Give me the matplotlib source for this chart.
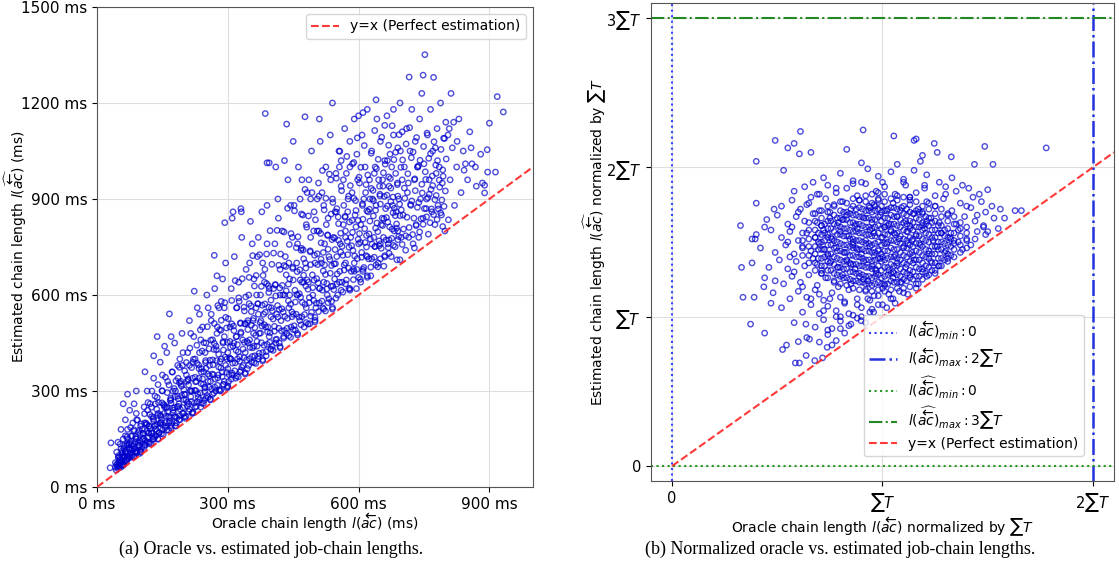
import numpy as np
import matplotlib.pyplot as plt

# (a) oracle vs estimated chain length, ms  (thinned)
oracle_ms = [
    42, 45, 48, 50, 52, 55, 58, 60, 62, 65, 48, 55, 60, 68, 70, 72, 75, 78, 80, 82,
    85, 88, 90, 92, 95, 98, 55, 65, 75, 85, 60, 90, 70, 80, 100, 95, 58, 66, 74, 84,
    30, 32, 65, 91, 50, 53, 57, 62, 70, 76,
    100, 105, 108, 110, 112, 115, 118, 120, 122, 125, 128, 130, 132, 135, 138, 140, 142, 145, 148, 150,
    152, 155, 158, 160, 162, 165, 168, 170, 172, 175, 178, 180, 182, 185, 188, 190, 192, 195, 198, 200,
    110, 130, 150, 170, 190, 140, 160, 120, 180, 155, 138, 166, 104, 116, 126, 134, 146, 174, 186, 196,
    202, 205, 208, 210, 212, 215, 218, 220, 222, 225, 228, 230, 232, 235, 238, 240, 242, 245, 248, 250,
    252, 255, 258, 260, 262, 265, 268, 270, 272, 275, 278, 280, 282, 285, 288, 290, 292, 295, 298, 300,
    215, 235, 255, 275, 295, 225, 245, 265, 285, 300, 223, 269, 206, 238, 262, 284, 212, 248, 276, 292,
    302, 305, 308, 310, 312, 315, 318, 320, 322, 325, 328, 330, 332, 335, 338, 340, 342, 345, 348, 350,
    352, 355, 358, 360, 362, 365, 368, 370, 372, 375, 378, 380, 382, 385, 388, 390, 392, 395, 398, 400,
    310, 330, 350, 370, 390, 320, 340, 360, 380, 395, 293, 312, 331, 346, 366, 384, 306, 326, 356, 376,
    402, 405, 408, 410, 412, 415, 418, 420, 422, 425, 428, 430, 432, 435, 438, 440, 442, 445, 448, 450,
    452, 455, 458, 460, 462, 465, 468, 470, 472, 475, 478, 480, 482, 485, 488, 490, 492, 495, 498, 500,
    410, 430, 450, 470, 490, 420, 440, 460, 480, 500, 386, 477, 435, 390, 395, 416, 444, 466, 486, 474,
    502, 505, 508, 510, 512, 515, 518, 520, 522, 525, 528, 530, 532, 535, 538, 540, 542, 545, 548, 550,
    552, 555, 558, 560, 562, 565, 568, 570, 572, 575, 578, 580, 582, 585, 588, 590, 592, 595, 598, 600,
    510, 540, 560, 580, 600, 520, 550, 570, 590, 505, 516, 536, 556, 576, 596, 526, 546, 566, 586, 541,
    602, 605, 608, 610, 612, 615, 618, 620, 622, 625, 628, 630, 632, 635, 638, 640, 642, 645, 648, 650,
    652, 655, 658, 660, 662, 665, 668, 670, 672, 675, 678, 680, 682, 685, 688, 690, 692, 695, 698, 700,
    610, 640, 660, 680, 700, 620, 650, 670, 690, 605, 616, 636, 656, 676, 696, 626, 646, 666, 686, 638,
    702, 705, 708, 710, 712, 715, 718, 720, 722, 725, 728, 730, 732, 735, 738, 740, 742, 745, 748, 750,
    752, 755, 758, 760, 762, 765, 768, 770, 772, 775, 778, 780, 782, 785, 788, 790, 792, 795, 798, 800,
    695, 728, 748, 793, 806, 716, 736, 756, 776, 766,
    805, 810, 815, 818, 820, 825, 830, 835, 840, 845, 850, 855, 860, 870, 880, 889, 889, 895, 896, 900,
    914, 918, 932, 812, 808, 826, 842, 858, 868, 884,
]
estimated_ms = [
    62, 70, 58, 66, 75, 62, 80, 70, 95, 110, 140, 120, 150, 130, 180, 90, 100, 160, 120, 200,
    95, 140, 230, 110, 170, 105, 180, 210, 240, 260, 260, 300, 290, 100, 190, 130, 100, 85, 120, 175,
    60, 138, 160, 210, 75, 90, 68, 120, 150, 140,
    115, 150, 250, 130, 200, 300, 170, 140, 260, 220, 150, 340, 190, 160, 280, 230, 170, 390, 210, 300,
    165, 250, 190, 420, 330, 200, 270, 185, 360, 240, 450, 300, 200, 380, 260, 210, 330, 480, 230, 290,
    360, 410, 350, 470, 400, 320, 250, 190, 220, 440, 470, 541, 180, 240, 300, 260, 200, 300, 340, 380,
    215, 350, 420, 260, 520, 300, 230, 390, 470, 250, 330, 560, 280, 420, 250, 370, 500, 270, 310, 450,
    600, 280, 380, 330, 520, 290, 430, 620, 300, 480, 350, 560, 300, 400, 650, 320, 470, 530, 310, 420,
    480, 540, 560, 660, 700, 400, 360, 460, 580, 370, 612, 724, 330, 460, 540, 490, 380, 420, 500, 560,
    330, 500, 620, 350, 440, 720, 340, 560, 400, 640, 360, 480, 780, 380, 550, 420, 680, 370, 600, 460,
    830, 390, 520, 650, 410, 560, 720, 400, 480, 600, 860, 420, 540, 680, 410, 760, 500, 620, 430, 560,
    840, 870, 700, 780, 880, 470, 510, 440, 700, 470, 826, 860, 860, 520, 600, 640, 400, 580, 760, 520,
    440, 620, 760, 460, 540, 900, 450, 680, 520, 800, 470, 600, 720, 480, 960, 560, 650, 500, 780, 540,
    880, 490, 700, 600, 1000, 520, 740, 640, 850, 500, 700, 560, 920, 640, 510, 780, 1050, 600, 860, 700,
    1000, 1020, 1080, 960, 900, 600, 700, 760, 820, 530, 1167, 1157, 1134, 1013, 1013, 840, 880, 900, 960, 640,
    560, 800, 950, 620, 1080, 700, 560, 880, 760, 1000, 600, 840, 720, 1100, 580, 900, 780, 650, 980, 870,
    600, 1050, 760, 940, 640, 820, 1120, 700, 980, 860, 620, 1000, 780, 920, 680, 1150, 850, 620, 960, 760,
    1150, 1200, 1020, 1080, 1160, 640, 720, 780, 700, 900, 920, 960, 1000, 900, 1040, 820, 860, 880, 1010, 628,
    950, 820, 1100, 680, 900, 1000, 750, 1180, 860, 960, 660, 1050, 900, 780, 1000, 880, 1150, 700, 940, 1080,
    820, 960, 690, 1020, 870, 1160, 760, 940, 1040, 720, 880, 1100, 800, 980, 710, 1060, 900, 1200, 780, 960,
    1170, 1210, 1130, 1180, 1110, 720, 760, 730, 800, 640, 920, 980, 940, 1000, 1050, 900, 960, 1020, 860, 752,
    850, 1000, 740, 1120, 920, 780, 1050, 880, 1180, 760, 960, 1080, 820, 1000, 780, 1150, 900, 1230, 840, 1010,
    1351, 870, 1100, 790, 960, 1180, 860, 1050, 1280, 820, 980, 1120, 880, 1000, 1200, 850, 950, 1090, 800, 1140,
    710, 747, 1287, 814, 835, 1281, 1000, 900, 1060, 930,
    1100, 960, 1060, 1140, 880, 1000, 1150, 920, 1050, 1010, 960, 1110, 1010, 940, 1040, 919, 943, 1054, 984, 1137,
    984, 1220, 1172, 1230, 1120, 1080, 990, 1060, 1000, 950,
]
# denser core of the band in (a), (oracle, estimated) in ms
band_a = [
    (44, 53), (47, 64), (42, 76), (49, 91), (45, 109), (52, 67), (55, 80), (50, 93), (57, 112), (53, 134),
    (60, 68), (63, 79), (58, 93), (65, 109), (61, 130), (68, 81), (71, 96), (66, 112), (73, 132), (69, 157),
    (76, 95), (79, 116), (74, 136), (81, 159), (77, 186), (84, 95), (87, 111), (82, 129), (89, 151), (85, 179),
    (92, 111), (95, 131), (90, 150), (97, 177), (93, 209), (100, 109), (103, 125), (98, 145), (105, 168), (101, 197),
    (108, 124), (111, 145), (106, 167), (113, 195), (109, 229), (116, 140), (119, 168), (114, 196), (121, 227), (117, 264),
    (124, 136), (127, 158), (122, 182), (129, 212), (125, 249), (132, 155), (135, 181), (130, 206), (137, 243), (133, 284),
    (140, 149), (143, 170), (138, 196), (145, 226), (141, 264), (148, 167), (151, 194), (146, 221), (153, 258), (149, 301),
    (156, 185), (159, 221), (154, 255), (161, 295), (157, 343), (164, 178), (167, 206), (162, 235), (169, 273), (165, 319),
    (172, 199), (175, 232), (170, 262), (177, 308), (173, 359), (180, 190), (183, 216), (178, 248), (185, 284), (181, 332),
    (188, 210), (191, 243), (186, 276), (193, 321), (189, 374), (196, 230), (199, 273), (194, 315), (201, 363), (197, 420),
    (204, 220), (207, 253), (202, 289), (209, 334), (205, 389), (212, 243), (215, 282), (210, 319), (217, 373), (213, 434),
    (220, 231), (223, 262), (218, 300), (225, 343), (221, 399), (228, 252), (231, 291), (226, 329), (233, 381), (229, 443),
    (236, 273), (239, 323), (234, 370), (241, 425), (237, 491), (244, 261), (247, 298), (242, 338), (249, 389), (245, 451),
    (252, 286), (255, 330), (250, 371), (257, 432), (253, 501), (260, 272), (263, 306), (258, 348), (265, 397), (261, 459),
    (268, 294), (271, 338), (266, 382), (273, 440), (269, 511), (276, 318), (279, 375), (274, 429), (281, 492), (277, 567),
    (284, 302), (287, 345), (282, 392), (289, 450), (285, 521), (292, 330), (295, 380), (290, 428), (297, 497), (293, 576),
    (300, 312), (303, 351), (298, 400), (305, 455), (301, 526), (308, 337), (311, 387), (306, 437), (313, 503), (309, 583),
    (316, 363), (319, 427), (314, 489), (321, 560), (317, 645), (324, 344), (327, 393), (322, 445), (329, 511), (325, 591),
    (332, 374), (335, 431), (330, 484), (337, 562), (333, 651), (340, 353), (343, 397), (338, 452), (345, 513), (341, 594),
    (348, 380), (351, 436), (346, 492), (353, 566), (349, 655), (356, 408), (359, 480), (354, 548), (361, 628), (357, 723),
    (364, 386), (367, 440), (362, 498), (369, 572), (365, 661), (372, 418), (375, 481), (370, 540), (377, 627), (373, 726),
    (380, 394), (383, 443), (378, 503), (385, 572), (381, 661), (388, 423), (391, 485), (386, 546), (393, 629), (389, 728),
    (396, 452), (399, 532), (394, 608), (401, 696), (397, 801), (404, 427), (407, 487), (402, 551), (409, 633), (405, 731),
    (412, 462), (415, 531), (410, 597), (417, 693), (413, 802), (420, 435), (423, 488), (418, 555), (425, 630), (421, 728),
    (428, 465), (431, 533), (426, 600), (433, 689), (429, 797), (436, 496), (439, 582), (434, 663), (441, 758), (437, 871),
    (444, 468), (447, 532), (442, 600), (449, 687), (445, 792), (452, 504), (455, 578), (450, 647), (457, 748), (453, 863),
    (460, 475), (463, 531), (458, 601), (465, 679), (461, 782), (468, 507), (471, 577), (466, 647), (473, 741), (469, 853),
    (476, 539), (479, 628), (474, 713), (481, 812), (477, 930), (484, 509), (487, 576), (482, 647), (489, 738), (485, 847),
    (492, 546), (495, 623), (490, 695), (497, 800), (493, 920), (500, 516), (503, 574), (498, 646), (505, 729), (501, 835),
    (508, 548), (511, 621), (506, 695), (513, 792), (509, 909), (516, 581), (519, 675), (514, 763), (521, 866), (517, 989),
    (524, 550), (527, 619), (522, 694), (529, 788), (525, 902), (532, 588), (535, 668), (530, 743), (537, 853), (533, 978),
    (540, 556), (543, 617), (538, 692), (545, 778), (541, 889), (548, 590), (551, 666), (546, 742), (553, 844), (549, 965),
    (556, 640), (559, 734), (554, 823), (561, 926), (557, 1049), (564, 609), (567, 678), (562, 752), (569, 846), (565, 960),
    (572, 647), (575, 726), (570, 800), (577, 909), (573, 1033), (580, 615), (583, 674), (578, 749), (585, 833), (581, 942),
    (588, 648), (591, 722), (586, 796), (593, 895), (589, 1014), (596, 680), (599, 774), (594, 864), (601, 968), (597, 1091),
    (604, 649), (607, 718), (602, 792), (609, 885), (605, 999), (612, 686), (615, 764), (610, 837), (617, 945), (613, 1067),
    (620, 655), (623, 713), (618, 786), (625, 868), (621, 975), (628, 687), (631, 759), (626, 831), (633, 927), (629, 1043),
    (636, 718), (639, 809), (634, 895), (641, 995), (637, 1114), (644, 688), (647, 754), (642, 825), (649, 915), (645, 1024),
    (652, 746), (655, 817), (650, 884), (657, 982), (653, 1093), (660, 719), (663, 772), (658, 838), (665, 912), (661, 1009),
    (668, 748), (671, 813), (666, 878), (673, 964), (669, 1068), (676, 777), (679, 857), (674, 934), (681, 1023), (677, 1129),
    (684, 751), (687, 809), (682, 871), (689, 950), (685, 1046), (692, 783), (695, 848), (690, 909), (697, 999), (693, 1101),
    (700, 758), (703, 806), (698, 866), (705, 934), (701, 1022), (708, 785), (711, 843), (706, 902), (713, 979), (709, 1072),
    (716, 811), (719, 883), (714, 950), (721, 1029), (717, 1123), (724, 789), (727, 840), (722, 894), (729, 963), (725, 1047),
    (732, 817), (735, 874), (730, 926), (737, 1004), (733, 1092), (740, 797), (743, 838), (738, 889), (745, 946), (741, 1021),
    (748, 821), (751, 870), (746, 919), (753, 985), (749, 1064), (756, 844), (759, 904), (754, 961), (761, 1027), (757, 1106),
    (764, 826), (767, 869), (762, 915), (769, 972), (765, 1042), (772, 851), (775, 898), (770, 942), (777, 1006), (773, 1079),
    (780, 836), (783, 869), (778, 911), (785, 959), (781, 1020), (788, 857), (791, 897), (786, 937), (793, 991), (789, 1055),
    (796, 877), (799, 925), (794, 971), (801, 1025), (797, 1089),
]
# the thickest part of the band in (a), (oracle, estimated) in ms
middle_a = [
    (50, 63), (47, 73), (54, 85), (49, 98), (60, 69), (57, 81), (64, 94), (59, 108),
    (70, 88), (67, 102), (74, 118), (69, 136), (80, 93), (77, 107), (84, 118), (79, 134),
    (90, 106), (87, 121), (94, 139), (89, 158), (100, 110), (97, 127), (104, 146), (99, 166),
    (110, 133), (107, 152), (114, 174), (109, 200), (120, 135), (117, 154), (124, 169), (119, 191),
    (130, 149), (127, 169), (134, 193), (129, 218), (140, 151), (137, 174), (144, 198), (139, 224),
    (150, 178), (147, 202), (154, 230), (149, 263), (160, 178), (157, 201), (164, 220), (159, 247),
    (170, 192), (167, 217), (174, 247), (169, 278), (180, 192), (177, 220), (184, 250), (179, 282),
    (190, 223), (187, 252), (194, 286), (189, 326), (200, 220), (197, 248), (204, 272), (199, 304),
    (210, 236), (207, 265), (214, 301), (209, 338), (220, 234), (217, 267), (224, 302), (219, 340),
    (230, 267), (227, 301), (234, 340), (229, 387), (240, 262), (237, 294), (244, 321), (239, 359),
    (250, 278), (247, 312), (254, 353), (249, 395), (260, 275), (257, 312), (264, 353), (259, 396),
    (270, 312), (267, 351), (274, 395), (269, 449), (280, 304), (277, 341), (284, 372), (279, 415),
    (290, 321), (287, 359), (294, 406), (289, 454), (300, 316), (297, 358), (304, 403), (299, 452),
    (310, 356), (307, 400), (314, 450), (309, 510), (320, 347), (317, 388), (324, 422), (319, 470),
    (330, 364), (327, 407), (334, 460), (329, 513), (340, 357), (337, 404), (344, 455), (339, 510),
    (350, 401), (347, 450), (354, 506), (349, 573), (360, 389), (357, 435), (364, 474), (359, 527),
    (370, 408), (367, 455), (374, 514), (369, 573), (380, 398), (377, 451), (384, 507), (379, 568),
    (390, 446), (387, 500), (394, 562), (389, 636), (400, 431), (397, 482), (404, 525), (399, 584),
    (410, 450), (407, 502), (414, 567), (409, 631), (420, 439), (417, 496), (424, 557), (419, 622),
    (430, 489), (427, 547), (434, 613), (429, 692), (440, 473), (437, 527), (444, 571), (439, 634),
    (450, 492), (447, 547), (454, 615), (449, 683), (460, 480), (457, 540), (464, 604), (459, 673),
    (470, 532), (467, 593), (474, 662), (469, 746), (480, 514), (477, 571), (484, 618), (479, 684),
    (490, 534), (487, 592), (494, 663), (489, 735), (500, 521), (497, 583), (504, 651), (499, 724),
    (510, 575), (507, 638), (514, 712), (509, 800), (520, 556), (517, 615), (524, 664), (519, 733),
    (530, 576), (527, 636), (534, 711), (529, 786), (540, 561), (537, 627), (544, 697), (539, 773),
    (550, 634), (547, 698), (554, 771), (549, 859), (560, 615), (557, 674), (564, 724), (559, 793),
    (570, 635), (567, 694), (574, 768), (569, 843), (580, 620), (577, 684), (584, 754), (579, 828),
    (590, 674), (587, 739), (594, 813), (589, 902), (600, 655), (597, 714), (604, 764), (599, 833),
    (610, 674), (607, 733), (614, 807), (609, 880), (620, 660), (617, 723), (624, 791), (619, 863),
    (630, 713), (627, 775), (634, 847), (629, 933), (640, 694), (637, 751), (644, 798), (639, 865),
    (650, 713), (647, 769), (654, 840), (649, 910), (660, 723), (657, 780), (664, 842), (659, 908),
    (670, 772), (667, 828), (674, 892), (669, 969), (680, 755), (677, 806), (684, 848), (679, 906),
    (690, 773), (687, 822), (694, 884), (689, 945),
]

# (b) normalized by sum(T)
oracle_norm = [
    0.72, 0.80, 0.86, 0.93, 0.98, 1.04, 1.10, 1.15, 1.21, 1.27, 1.33, 0.67, 1.38, 0.90, 1.07, 1.18,
    0.58, 0.63, 0.69, 0.74, 0.78, 0.83, 0.88, 0.92, 0.97, 1.01, 1.06, 1.11, 1.16, 1.20, 1.25, 1.30,
    1.35, 1.41, 1.46, 1.50, 0.66, 0.86, 1.13, 1.43,
    0.52, 0.57, 0.61, 0.65, 0.70, 0.73, 0.77, 0.81, 0.85, 0.89, 0.94, 0.98, 1.02, 1.05, 1.09, 1.13,
    1.17, 1.21, 1.25, 1.29, 1.33, 1.37, 1.42, 1.47, 1.52, 0.96, 0.75, 1.19, 1.56, 1.49,
    0.45, 0.50, 0.55, 0.59, 0.63, 0.67, 0.71, 0.75, 0.79, 0.83, 0.87, 0.91, 0.95, 0.99, 1.03, 1.07,
    1.11, 1.15, 1.19, 1.23, 1.27, 1.31, 1.35, 1.39, 1.44, 1.48, 1.53, 0.81, 1.01, 1.21, 0.69, 1.13,
    0.40, 0.47, 0.52, 0.56, 0.60, 0.64, 0.68, 0.72, 0.76, 0.80, 0.84, 0.88, 0.92, 0.96, 1.00, 1.04,
    1.08, 1.12, 1.16, 1.20, 1.24, 1.28, 1.32, 1.36, 1.40, 1.45, 1.49, 0.86, 1.06, 0.94, 1.14, 0.74,
    0.42, 0.49, 0.54, 0.58, 0.62, 0.66, 0.70, 0.74, 0.78, 0.82, 0.86, 0.90, 0.94, 0.98, 1.02, 1.06,
    1.10, 1.14, 1.18, 1.22, 1.26, 1.30, 1.34, 1.38, 1.42, 0.88, 1.00, 1.12, 0.72, 0.96,
    0.38, 0.46, 0.51, 0.55, 0.59, 0.63, 0.67, 0.71, 0.75, 0.79, 0.83, 0.87, 0.91, 0.95, 0.99, 1.03,
    1.07, 1.11, 1.15, 1.19, 1.23, 1.27, 1.31, 0.85, 1.05, 0.69, 0.97,
    0.44, 0.53, 0.57, 0.61, 0.65, 0.69, 0.73, 0.77, 0.81, 0.85, 0.89, 0.93, 0.97, 1.01, 1.05, 1.09,
    1.13, 1.17, 1.21, 1.25, 0.79, 0.91, 0.71,
    0.48, 0.56, 0.60, 0.64, 0.68, 0.72, 0.76, 0.80, 0.84, 0.88, 0.92, 0.96, 1.00, 1.04, 1.08, 1.12,
    1.16, 0.82, 0.94,
    0.52, 0.62, 0.66, 0.70, 0.74, 0.78, 0.82, 0.86, 0.90, 0.94, 0.98, 1.02, 1.06, 0.80,
    0.58, 0.68, 0.72, 0.76, 0.80, 0.84, 0.88, 0.92, 0.74,
    0.64, 0.70, 0.74, 0.78, 0.82, 0.76,
    0.586, 0.605, 0.637, 0.525, 0.544, 0.44, 0.373, 0.337, 0.39, 0.47, 0.49, 0.436, 0.715, 0.678,
    0.737, 0.898, 0.958, 0.653, 0.60, 0.636,
    1.778, 0.908, 0.61, 0.49, 0.40, 1.054, 1.16, 1.15, 1.486, 1.437, 1.525, 0.325, 0.33, 1.66, 1.63,
    1.58, 1.55, 0.38, 0.395, 0.44, 0.485, 0.40, 0.53, 0.55, 0.58, 0.66, 0.605, 0.83, 1.246, 1.26,
    1.327, 1.19,
]
estimated_norm = [
    1.93, 1.96, 1.91, 1.99, 1.94, 1.97, 1.92, 1.98, 1.95, 1.90, 1.93, 1.90, 1.88, 2.03, 2.02, 2.04,
    1.84, 1.87, 1.82, 1.88, 1.83, 1.86, 1.81, 1.89, 1.84, 1.87, 1.82, 1.88, 1.83, 1.86, 1.81, 1.87,
    1.84, 1.86, 1.82, 1.85, 1.80, 1.89, 1.80, 1.80,
    1.74, 1.78, 1.72, 1.76, 1.71, 1.79, 1.74, 1.77, 1.72, 1.78, 1.73, 1.79, 1.71, 1.76, 1.73, 1.78,
    1.72, 1.77, 1.74, 1.79, 1.71, 1.76, 1.73, 1.77, 1.74, 1.75, 1.70, 1.70, 1.72, 1.70,
    1.65, 1.68, 1.62, 1.67, 1.64, 1.69, 1.61, 1.66, 1.63, 1.68, 1.61, 1.66, 1.63, 1.68, 1.62, 1.67,
    1.64, 1.69, 1.61, 1.66, 1.63, 1.68, 1.62, 1.67, 1.64, 1.61, 1.66, 1.65, 1.60, 1.64, 1.63, 1.61,
    1.55, 1.58, 1.53, 1.57, 1.51, 1.56, 1.53, 1.58, 1.52, 1.57, 1.54, 1.59, 1.51, 1.56, 1.53, 1.58,
    1.52, 1.57, 1.54, 1.59, 1.51, 1.56, 1.53, 1.58, 1.52, 1.57, 1.55, 1.50, 1.55, 1.58, 1.51, 1.55,
    1.46, 1.43, 1.48, 1.42, 1.47, 1.44, 1.49, 1.41, 1.46, 1.43, 1.48, 1.42, 1.47, 1.44, 1.49, 1.41,
    1.46, 1.43, 1.48, 1.42, 1.47, 1.44, 1.49, 1.45, 1.48, 1.45, 1.40, 1.49, 1.45, 1.41,
    1.36, 1.33, 1.38, 1.32, 1.37, 1.34, 1.39, 1.31, 1.36, 1.33, 1.38, 1.32, 1.37, 1.34, 1.39, 1.31,
    1.36, 1.33, 1.38, 1.32, 1.37, 1.34, 1.39, 1.35, 1.30, 1.35, 1.31,
    1.26, 1.22, 1.27, 1.23, 1.28, 1.21, 1.26, 1.23, 1.28, 1.22, 1.27, 1.24, 1.29, 1.21, 1.26, 1.23,
    1.28, 1.22, 1.27, 1.29, 1.20, 1.25, 1.29,
    1.16, 1.12, 1.17, 1.13, 1.18, 1.11, 1.16, 1.13, 1.18, 1.12, 1.17, 1.14, 1.19, 1.12, 1.17, 1.15,
    1.19, 1.10, 1.11,
    1.06, 1.03, 1.08, 1.02, 1.07, 1.04, 1.09, 1.01, 1.06, 1.03, 1.08, 1.06, 1.09, 1.00,
    0.96, 0.93, 0.98, 0.92, 0.97, 0.94, 0.99, 0.96, 0.91,
    0.86, 0.83, 0.88, 0.84, 0.89, 0.81,
    0.69, 0.69, 0.74, 0.78, 0.81, 0.89, 0.95, 1.13, 1.13, 1.09, 1.24, 1.20, 0.724, 0.706,
    0.795, 0.973, 1.03, 0.85, 0.833, 0.95,
    2.13, 2.25, 2.24, 2.18, 2.04, 2.21, 2.19, 2.18, 2.14, 2.02, 2.02, 1.61, 1.33, 1.71, 1.71,
    1.66, 1.59, 1.52, 1.52, 1.60, 1.72, 1.76, 1.98, 2.13, 2.16, 2.10, 2.09, 2.12, 2.16, 2.10,
    2.07, 2.08,
]
# dense core of the cloud in (b), (oracle, estimated)
core_b = [
    (0.62, 1.41), (0.62, 1.46), (0.62, 1.51), (0.62, 1.56),
    (0.65, 1.36), (0.65, 1.41), (0.65, 1.47), (0.65, 1.52), (0.65, 1.58), (0.65, 1.63),
    (0.68, 1.31), (0.68, 1.36), (0.68, 1.42), (0.68, 1.47), (0.68, 1.53), (0.68, 1.58), (0.68, 1.64), (0.68, 1.69),
    (0.71, 1.29), (0.71, 1.34), (0.71, 1.39), (0.71, 1.45), (0.71, 1.50), (0.71, 1.55), (0.71, 1.61), (0.71, 1.66),
    (0.71, 1.71), (0.74, 1.26), (0.74, 1.31), (0.74, 1.37), (0.74, 1.42), (0.74, 1.48), (0.74, 1.53), (0.74, 1.59),
    (0.74, 1.64), (0.74, 1.70), (0.74, 1.74), (0.77, 1.24), (0.77, 1.29), (0.77, 1.35), (0.77, 1.40), (0.77, 1.46),
    (0.77, 1.51), (0.77, 1.57), (0.77, 1.62), (0.77, 1.68), (0.77, 1.75), (0.80, 1.22), (0.80, 1.27), (0.80, 1.33),
    (0.80, 1.38), (0.80, 1.44), (0.80, 1.49), (0.80, 1.55), (0.80, 1.60), (0.80, 1.66), (0.80, 1.71), (0.80, 1.77),
    (0.83, 1.21), (0.83, 1.26), (0.83, 1.32), (0.83, 1.37), (0.83, 1.43), (0.83, 1.48), (0.83, 1.54), (0.83, 1.59),
    (0.83, 1.65), (0.83, 1.70), (0.83, 1.76), (0.86, 1.19), (0.86, 1.24), (0.86, 1.30), (0.86, 1.35), (0.86, 1.41),
    (0.86, 1.46), (0.86, 1.52), (0.86, 1.57), (0.86, 1.63), (0.86, 1.68), (0.86, 1.74), (0.86, 1.79),
    (0.89, 1.18), (0.89, 1.23), (0.89, 1.29), (0.89, 1.34), (0.89, 1.40), (0.89, 1.45), (0.89, 1.51), (0.89, 1.56),
    (0.89, 1.62), (0.89, 1.67), (0.89, 1.73), (0.89, 1.78), (0.92, 1.18), (0.92, 1.22), (0.92, 1.27), (0.92, 1.33),
    (0.92, 1.38), (0.92, 1.44), (0.92, 1.49), (0.92, 1.55), (0.92, 1.60), (0.92, 1.66), (0.92, 1.71), (0.92, 1.77),
    (0.92, 1.81), (0.95, 1.17), (0.95, 1.21), (0.95, 1.26), (0.95, 1.32), (0.95, 1.37), (0.95, 1.43), (0.95, 1.48),
    (0.95, 1.54), (0.95, 1.59), (0.95, 1.65), (0.95, 1.70), (0.95, 1.76), (0.95, 1.82), (0.98, 1.18), (0.98, 1.23),
    (0.98, 1.28), (0.98, 1.34), (0.98, 1.39), (0.98, 1.45), (0.98, 1.50), (0.98, 1.56), (0.98, 1.61), (0.98, 1.67),
    (0.98, 1.72), (0.98, 1.78), (0.98, 1.83), (1.01, 1.17), (1.01, 1.22), (1.01, 1.27), (1.01, 1.33), (1.01, 1.38),
    (1.01, 1.44), (1.01, 1.49), (1.01, 1.55), (1.01, 1.60), (1.01, 1.66), (1.01, 1.71), (1.01, 1.77), (1.01, 1.82),
    (1.04, 1.18), (1.04, 1.24), (1.04, 1.29), (1.04, 1.35), (1.04, 1.40), (1.04, 1.46), (1.04, 1.51), (1.04, 1.57),
    (1.04, 1.62), (1.04, 1.68), (1.04, 1.73), (1.04, 1.79), (1.07, 1.19), (1.07, 1.23), (1.07, 1.28), (1.07, 1.34),
    (1.07, 1.39), (1.07, 1.45), (1.07, 1.50), (1.07, 1.56), (1.07, 1.61), (1.07, 1.67), (1.07, 1.72), (1.07, 1.78),
    (1.07, 1.81), (1.10, 1.19), (1.10, 1.25), (1.10, 1.30), (1.10, 1.36), (1.10, 1.41), (1.10, 1.47), (1.10, 1.52),
    (1.10, 1.58), (1.10, 1.63), (1.10, 1.69), (1.10, 1.74), (1.10, 1.80), (1.13, 1.20), (1.13, 1.26), (1.13, 1.31),
    (1.13, 1.37), (1.13, 1.42), (1.13, 1.48), (1.13, 1.53), (1.13, 1.59), (1.13, 1.64), (1.13, 1.70), (1.13, 1.75),
    (1.13, 1.80), (1.16, 1.22), (1.16, 1.27), (1.16, 1.33), (1.16, 1.38), (1.16, 1.44), (1.16, 1.49), (1.16, 1.55),
    (1.16, 1.60), (1.16, 1.66), (1.16, 1.71), (1.16, 1.77), (1.19, 1.25), (1.19, 1.30), (1.19, 1.36), (1.19, 1.41),
    (1.19, 1.47), (1.19, 1.52), (1.19, 1.58), (1.19, 1.63), (1.19, 1.69), (1.19, 1.74), (1.22, 1.28), (1.22, 1.33),
    (1.22, 1.39), (1.22, 1.44), (1.22, 1.50), (1.22, 1.55), (1.22, 1.61), (1.22, 1.66), (1.22, 1.72), (1.22, 1.76),
    (1.25, 1.31), (1.25, 1.36), (1.25, 1.42), (1.25, 1.47), (1.25, 1.53), (1.25, 1.58), (1.25, 1.64), (1.25, 1.69),
    (1.25, 1.74), (1.28, 1.34), (1.28, 1.39), (1.28, 1.45), (1.28, 1.50), (1.28, 1.56), (1.28, 1.61), (1.28, 1.67),
    (1.28, 1.72), (1.31, 1.37), (1.31, 1.42), (1.31, 1.48), (1.31, 1.53), (1.31, 1.59), (1.31, 1.64), (1.31, 1.69),
    (1.34, 1.40), (1.34, 1.45), (1.34, 1.51), (1.34, 1.56), (1.34, 1.62), (1.34, 1.67), (1.37, 1.43), (1.37, 1.48),
    (1.37, 1.54), (1.37, 1.59), (1.37, 1.63), (1.40, 1.46), (1.40, 1.51), (1.40, 1.56), (1.40, 1.60),
    (0.85, 0.95), (0.90, 1.00), (0.95, 1.05), (1.00, 1.08), (1.05, 1.12), (1.10, 1.16), (0.88, 1.08), (0.93, 1.12),
    (0.98, 1.14), (1.03, 1.15), (0.80, 0.92), (0.84, 1.02), (0.78, 1.00), (0.72, 1.04), (0.66, 1.12), (0.70, 1.15),
    (0.75, 1.12), (0.62, 1.20), (0.58, 1.30), (0.56, 1.40), (0.55, 1.50), (0.57, 1.60), (0.60, 1.70), (0.64, 1.75),
    (0.70, 1.82), (0.78, 1.86), (0.90, 1.90), (1.00, 1.90), (1.10, 1.90), (1.20, 1.88), (1.30, 1.82), (1.40, 1.74),
    (1.45, 1.68), (1.48, 1.60), (1.50, 1.57), (1.44, 1.52), (1.36, 1.50),
]
# the darkest middle of the cloud in (b)
centre_b = [
    (0.695, 1.39), (0.695, 1.45), (0.695, 1.50), (0.695, 1.56),
    (0.725, 1.34), (0.725, 1.40), (0.725, 1.45), (0.725, 1.51), (0.725, 1.56), (0.725, 1.62),
    (0.755, 1.31), (0.755, 1.37), (0.755, 1.42), (0.755, 1.48), (0.755, 1.53), (0.755, 1.59), (0.755, 1.64),
    (0.785, 1.28), (0.785, 1.33), (0.785, 1.39), (0.785, 1.44), (0.785, 1.50), (0.785, 1.55), (0.785, 1.61), (0.785, 1.66),
    (0.815, 1.26), (0.815, 1.32), (0.815, 1.37), (0.815, 1.43), (0.815, 1.48), (0.815, 1.54), (0.815, 1.59), (0.815, 1.65),
    (0.815, 1.70), (0.845, 1.25), (0.845, 1.30), (0.845, 1.36), (0.845, 1.41), (0.845, 1.47), (0.845, 1.52), (0.845, 1.58),
    (0.845, 1.63), (0.845, 1.69), (0.875, 1.24), (0.875, 1.29), (0.875, 1.35), (0.875, 1.40), (0.875, 1.46), (0.875, 1.51),
    (0.875, 1.57), (0.875, 1.62), (0.875, 1.68), (0.875, 1.72), (0.905, 1.23), (0.905, 1.28), (0.905, 1.34), (0.905, 1.39),
    (0.905, 1.45), (0.905, 1.50), (0.905, 1.56), (0.905, 1.61), (0.905, 1.67), (0.905, 1.72), (0.935, 1.22), (0.935, 1.27),
    (0.935, 1.33), (0.935, 1.38), (0.935, 1.44), (0.935, 1.49), (0.935, 1.55), (0.935, 1.60), (0.935, 1.66), (0.935, 1.71),
    (0.935, 1.74), (0.965, 1.22), (0.965, 1.27), (0.965, 1.32), (0.965, 1.38), (0.965, 1.43), (0.965, 1.49), (0.965, 1.54),
    (0.965, 1.60), (0.965, 1.65), (0.965, 1.71), (0.965, 1.74), (0.995, 1.22), (0.995, 1.26), (0.995, 1.31), (0.995, 1.37),
    (0.995, 1.42), (0.995, 1.48), (0.995, 1.53), (0.995, 1.59), (0.995, 1.64), (0.995, 1.70), (0.995, 1.74),
    (1.025, 1.22), (1.025, 1.28), (1.025, 1.33), (1.025, 1.39), (1.025, 1.44), (1.025, 1.50), (1.025, 1.55), (1.025, 1.61),
    (1.025, 1.66), (1.025, 1.72), (1.055, 1.23), (1.055, 1.29), (1.055, 1.34), (1.055, 1.40), (1.055, 1.45), (1.055, 1.51),
    (1.055, 1.56), (1.055, 1.62), (1.055, 1.67), (1.055, 1.73), (1.085, 1.23), (1.085, 1.27), (1.085, 1.32), (1.085, 1.38),
    (1.085, 1.43), (1.085, 1.49), (1.085, 1.54), (1.085, 1.60), (1.085, 1.65), (1.085, 1.71), (1.115, 1.24), (1.115, 1.29),
    (1.115, 1.35), (1.115, 1.40), (1.115, 1.46), (1.115, 1.51), (1.115, 1.57), (1.115, 1.62), (1.115, 1.68), (1.115, 1.72),
    (1.145, 1.25), (1.145, 1.30), (1.145, 1.36), (1.145, 1.41), (1.145, 1.47), (1.145, 1.52), (1.145, 1.58), (1.145, 1.63),
    (1.145, 1.69), (1.175, 1.27), (1.175, 1.32), (1.175, 1.38), (1.175, 1.43), (1.175, 1.49), (1.175, 1.54), (1.175, 1.60),
    (1.175, 1.65), (1.175, 1.70), (1.205, 1.29), (1.205, 1.34), (1.205, 1.40), (1.205, 1.45), (1.205, 1.51), (1.205, 1.56),
    (1.205, 1.62), (1.205, 1.67), (1.235, 1.31), (1.235, 1.36), (1.235, 1.42), (1.235, 1.47), (1.235, 1.53), (1.235, 1.58),
    (1.235, 1.63), (1.265, 1.34), (1.265, 1.39), (1.265, 1.45), (1.265, 1.50), (1.265, 1.56), (1.265, 1.61),
    (1.295, 1.38), (1.295, 1.43), (1.295, 1.49), (1.295, 1.54), (1.295, 1.58),
    (1.325, 1.41), (1.325, 1.47), (1.325, 1.52), (1.325, 1.56),
]

blue = '#0000cc'
red_line = '#ff2222'

a_pts = band_a + middle_a
a_x = np.array(oracle_ms + [p[0] for p in a_pts])
a_y = np.array(estimated_ms + [p[1] for p in a_pts])
b_pts = core_b + centre_b
b_x = np.array(oracle_norm + [p[0] for p in b_pts])
b_y = np.array(estimated_norm + [p[1] for p in b_pts])

fig = plt.figure(figsize=(11.19, 5.69), dpi=100)
ax1 = fig.add_axes([0.0867, 0.1441, 0.3896, 0.8436])
ax2 = fig.add_axes([0.5818, 0.1547, 0.4137, 0.8400])

# ---- left panel ----
ax1.scatter(a_x, a_y, s=15, facecolors='none', edgecolors=blue,
            linewidths=1.0, alpha=0.7, zorder=2)
ax1.plot([0, 1000], [0, 1000], '--', color=red_line, lw=1.5, alpha=0.9,
         label='y=x (Perfect estimation)', zorder=3)
ax1.set_xlim(0, 1000)
ax1.set_ylim(0, 1500)
ax1.set_xticks([0, 300, 600, 900])
ax1.set_yticks([0, 300, 600, 900, 1200, 1500])
ax1.set_xticklabels([f'{v} ms' for v in [0, 300, 600, 900]])
ax1.set_yticklabels([f'{v} ms' for v in [0, 300, 600, 900, 1200, 1500]])
ax1.tick_params(labelsize=11)
ax1.set_xlabel(r'Oracle chain length $l(\overleftarrow{ac})$ (ms)', fontsize=10)
ax1.set_ylabel(r'Estimated chain length $l(\widehat{\overleftarrow{ac}})$ (ms)', fontsize=10)
ax1.yaxis.set_label_coords(-0.155, 0.5)
ax1.xaxis.set_label_coords(0.5, -0.05)
ax1.grid(True, color='#dddddd', lw=0.8)
ax1.set_axisbelow(True)
ax1.legend(loc='upper right', fontsize=10)

# ---- right panel ----
ax2.scatter(b_x, b_y, s=15, facecolors='none', edgecolors=blue,
            linewidths=1.0, alpha=0.7, zorder=2)
ax2.axvline(0, color='#3344ff', ls=':', lw=1.5, label=r'$l(\overleftarrow{ac})_{min}: 0$')
ax2.axvline(2, color='#2233dd', ls='-.', lw=1.8, label=r'$l(\overleftarrow{ac})_{max}: 2\sum T$')
ax2.axhline(0, color='#229922', ls=':', lw=1.5, label=r'$l(\widehat{\overleftarrow{ac}})_{min}: 0$')
ax2.axhline(3, color='#228822', ls='-.', lw=1.5, label=r'$l(\widehat{\overleftarrow{ac}})_{max}: 3\sum T$')
ax2.plot([0, 2.1], [0, 2.1], '--', color=red_line, lw=1.5, alpha=0.9,
         label='y=x (Perfect estimation)', zorder=3)
ax2.set_xlim(-0.1, 2.1)
ax2.set_ylim(-0.1, 3.1)
ax2.set_xticks([0, 1, 2])
ax2.set_xticklabels(['0', r'$\sum T$', r'$2\sum T$'])
ax2.set_yticks([0, 1, 2, 3])
ax2.set_yticklabels(['0', r'$\sum T$', r'$2\sum T$', r'$3\sum T$'])
ax2.tick_params(labelsize=10.5)
ax2.set_xlabel(r'Oracle chain length $l(\overleftarrow{ac})$ normalized by $\sum T$', fontsize=10)
ax2.set_ylabel(r'Estimated chain length $l(\widehat{\overleftarrow{ac}})$ normalized by $\sum T$', fontsize=10)
ax2.yaxis.set_label_coords(-0.09, 0.5)
ax2.xaxis.set_label_coords(0.5, -0.072)
ax2.grid(True, color='#dddddd', lw=0.8)
ax2.set_axisbelow(True)
ax2.legend(loc='lower right', bbox_to_anchor=(0.935, 0.052), borderaxespad=0,
           fontsize=10, labelspacing=0.3)

for ax in (ax1, ax2):
    for sp in ax.spines.values():
        sp.set_color('#555555')

fig.text(0.242, 0.035, '(a) Oracle vs. estimated job-chain lengths.',
         ha='center', va='center', family='Liberation Serif', fontsize=13)
fig.text(0.751, 0.035, '(b) Normalized oracle vs. estimated job-chain lengths.',
         ha='center', va='center', family='Liberation Serif', fontsize=13)

fig.savefig('out.png', dpi=100)
